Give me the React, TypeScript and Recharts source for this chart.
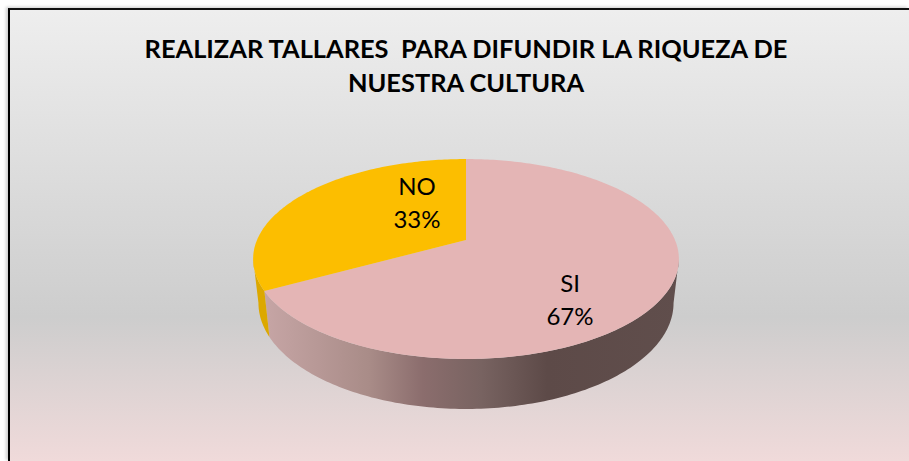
import { Pie, PieChart } from "recharts"

const titleLines = ["REALIZAR TALLARES  PARA DIFUNDIR LA RIQUEZA DE", "NUESTRA CULTURA"]
const categories = ["SI", "NO"]
const shares = [67, 33]
const topColors = ["#e4b5b5", "#fcbe00"]
const wallColors = ["url(#wallShade)", "#dca800"]

const pieData = categories.map((name, i) => ({ name, value: shares[i] }))

const FONT = "Lato, Carlito, sans-serif"
// perspective of the tilted disc, picked by eye against the reference
const TILT = -0.19
const SQUASH = 0.461
const DEPTH = 44
const WALL_X = 0.975
const WALL_Y = 1.06
const ELLIPSE_DROP = 19
// the side wall is only seen between these angles (the widest points of the ellipse)
const WALL_FROM = -11
const WALL_TO = -169

// unit circle -> screen, so that the pie centre sits above the middle of the ellipse
function project(cx: number, cy: number, r: number, angle: number) {
  const rad = (angle * Math.PI) / 180
  const u = Math.cos(rad)
  const v = -Math.sin(rad)
  const d = 1 + TILT * v
  return { x: cx + (r * u) / d, y: cy + (r * SQUASH * v) / d }
}

function arcPoints(cx: number, cy: number, r: number, from: number, to: number) {
  const steps = Math.max(2, Math.ceil(Math.abs(to - from)))
  const pts = []
  for (let i = 0; i <= steps; i++) {
    pts.push(project(cx, cy, r, from + ((to - from) * i) / steps))
  }
  return pts
}

function TopSlice(props: any) {
  const { cx, cy, outerRadius, startAngle, endAngle } = props
  const pts = arcPoints(cx, cy, outerRadius, startAngle, endAngle)
  const d = `M${cx},${cy}L` + pts.map((p) => `${p.x},${p.y}`).join("L") + "Z"
  return <path d={d} fill={topColors[props.index]} />
}

function WallSlice(props: any) {
  const { cx, cy, outerRadius, startAngle, endAngle } = props
  const from = Math.min(startAngle, WALL_FROM)
  const to = Math.max(endAngle, WALL_TO)
  const pts = arcPoints(cx, cy, outerRadius, from, to)
  const mid = cy + ELLIPSE_DROP
  const lower = pts.map((p) => ({
    x: cx + (p.x - cx) * WALL_X,
    y: mid + (p.y - mid) * WALL_Y + DEPTH,
  }))
  const ring = [...pts, ...lower.reverse()]
  const d = "M" + ring.map((p) => `${p.x},${p.y}`).join("L") + "Z"
  return <path d={d} fill={wallColors[props.index]} />
}

const labelOffsets = [
  { dx: 104, dy: 60 },
  { dx: -49, dy: -37 },
]

function renderLabel(props: any) {
  const { cx, cy, index, name, percent } = props
  const at = labelOffsets[index]
  return (
    <text x={cx + at.dx} textAnchor="middle" fontFamily={FONT} fontSize={24} fill="#000">
      <tspan x={cx + at.dx} y={cy + at.dy - 8}>{name}</tspan>
      <tspan x={cx + at.dx} y={cy + at.dy + 25}>{`${Math.round(percent * 100)}%`}</tspan>
    </text>
  )
}

export default function App() {
  return (
    <div style={{ position: "absolute", left: 0, top: 0, width: 909, height: 461, overflow: "hidden", background: "#fff" }}>
      <div
        style={{
          position: "absolute",
          left: 8,
          top: 8,
          width: 901,
          height: 453,
          boxSizing: "border-box",
          borderLeft: "2px solid #000",
          borderTop: "2px solid #111",
          boxShadow: "-2px -1px 3px rgba(0,0,0,0.2)",
          background: "linear-gradient(180deg, #eeeeee 0%, #cdcdcd 68%, #f0dada 100%)",
        }}
      />
      <PieChart
        width={909}
        height={461}
        margin={{ top: 0, right: 0, bottom: 0, left: 0 }}
        style={{ position: "absolute", left: 0, top: 0 }}
      >
        <defs>
          <linearGradient id="wallShade" gradientUnits="userSpaceOnUse" x1="265" x2="680" y1="0" y2="0">
            <stop offset="0" stopColor="#c6a5a5" />
            <stop offset="0.25" stopColor="#a98c88" />
            <stop offset="0.38" stopColor="#8b6d6d" />
            <stop offset="0.52" stopColor="#786361" />
            <stop offset="0.68" stopColor="#5d4a48" />
            <stop offset="1" stopColor="#604e4c" />
          </linearGradient>
        </defs>
        <text textAnchor="middle" fontFamily={FONT} fontWeight={700} fontSize={25.4} fill="#000" style={{ whiteSpace: "pre" }}>
          <tspan x={466} y={57.5}>{titleLines[0]}</tspan>
          <tspan x={466} y={92}>{titleLines[1]}</tspan>
        </text>
        <Pie
          data={pieData}
          dataKey="value"
          nameKey="name"
          cx={466}
          cy={240}
          outerRadius={209}
          startAngle={90}
          endAngle={-270}
          stroke="none"
          shape={WallSlice}
          isAnimationActive={false}
        />
        <Pie
          data={pieData}
          dataKey="value"
          nameKey="name"
          cx={466}
          cy={240}
          outerRadius={209}
          startAngle={90}
          endAngle={-270}
          stroke="none"
          shape={TopSlice}
          label={renderLabel}
          labelLine={false}
          isAnimationActive={false}
        />
      </PieChart>
    </div>
  )
}
